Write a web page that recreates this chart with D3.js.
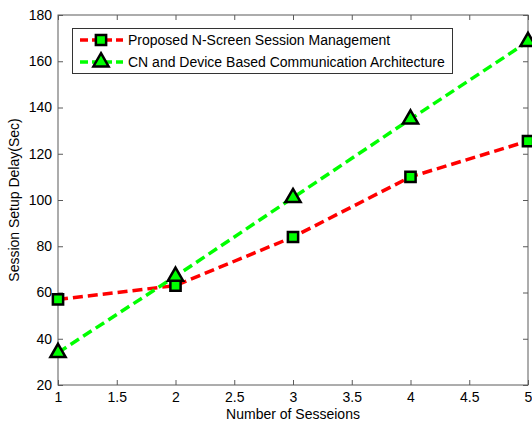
<!DOCTYPE html>
<html>
<head>
<meta charset="utf-8">
<script src="https://cdn.jsdelivr.net/npm/d3@7"></script>
<style>
  html, body { margin: 0; padding: 0; background: #fff; }
  svg { display: block; font-family: "Liberation Sans", Arial, sans-serif; }
</style>
</head>
<body>
<svg id="chart" width="532" height="425"></svg>
<script>
// Number of sessions on the x axis
const sessions = [1, 2, 3, 4, 5];
// Session setup delay (sec) for each approach
const proposedDelay = [57, 63, 84, 110, 125.5];
const cnDeviceDelay = [34, 67, 101, 135, 168.5];
const seriesNames = [
  "Proposed N-Screen Session Management",
  "CN and Device Based Communication Architecture"
];
const xTicks = [1, 1.5, 2, 2.5, 3, 3.5, 4, 4.5, 5];
const yTicks = [20, 40, 60, 80, 100, 120, 140, 160, 180];

const svg = d3.select("#chart");
const m = { left: 58, right: 528, top: 15, bottom: 385 };
const fontSize = 14;

const x = d3.scaleLinear().domain([1, 5]).range([m.left, m.right]);
const y = d3.scaleLinear().domain([20, 180]).range([m.bottom, m.top]);

const axisColor = "#5a5a5a";

// Frame and inward ticks on all four sides
const gAxes = svg.append("g");
const styleAxis = g => {
  g.select(".domain").remove();
  g.selectAll(".tick line").attr("stroke", axisColor).attr("stroke-width", 1);
  g.selectAll(".tick text").attr("fill", "#000").attr("font-size", fontSize)
    .attr("font-family", "Liberation Sans, Arial, sans-serif");
};

gAxes.append("g").attr("transform", `translate(0,${m.bottom})`)
  .call(d3.axisBottom(x).tickValues(xTicks).tickSize(-5).tickPadding(7).tickFormat(d3.format("")))
  .call(styleAxis);
gAxes.append("g").attr("transform", `translate(0,${m.top})`)
  .call(d3.axisTop(x).tickValues(xTicks).tickSize(-5).tickFormat(""))
  .call(styleAxis);
gAxes.append("g").attr("transform", `translate(${m.left},0)`)
  .call(d3.axisLeft(y).tickValues(yTicks).tickSize(-5).tickPadding(6))
  .call(styleAxis);
gAxes.append("g").attr("transform", `translate(${m.right},0)`)
  .call(d3.axisRight(y).tickValues(yTicks).tickSize(-5).tickFormat(""))
  .call(styleAxis);

gAxes.append("rect")
  .attr("x", m.left).attr("y", m.top)
  .attr("width", m.right - m.left).attr("height", m.bottom - m.top)
  .attr("fill", "none").attr("stroke", axisColor).attr("stroke-width", 1);

// Axis titles
svg.append("text")
  .attr("x", (m.left + m.right) / 2).attr("y", 419)
  .attr("text-anchor", "middle").attr("font-size", fontSize)
  .text("Number of Sesseions");
svg.append("text")
  .attr("transform", `translate(19,${(m.top + m.bottom) / 2}) rotate(-90)`)
  .attr("text-anchor", "middle").attr("font-size", fontSize)
  .text("Session Setup Delay(Sec)");

const line = d3.line().x(d => x(d[0])).y(d => y(d[1]));
const green = "#00ff00";
const markerSize = { square: 105, triangle: 100 };

function drawSeries(values, color, markerType, size) {
  const pts = sessions.map((s, i) => [s, values[i]]);
  svg.append("path")
    .datum(pts)
    .attr("d", line)
    .attr("fill", "none")
    .attr("stroke", color)
    .attr("stroke-width", 3.5)
    .attr("stroke-dasharray", "10,5");
  const sym = d3.symbol().type(markerType).size(size);
  svg.append("g").selectAll("path").data(pts).join("path")
    .attr("transform", d => `translate(${x(d[0])},${y(d[1])})`)
    .attr("d", sym)
    .attr("fill", green)
    .attr("stroke", "#000")
    .attr("stroke-width", 2.5)
    .attr("stroke-linejoin", "miter");
}

drawSeries(proposedDelay, "#ff0000", d3.symbolSquare, markerSize.square);
drawSeries(cnDeviceDelay, green, d3.symbolTriangle, markerSize.triangle);

// Legend
const legend = svg.append("g");
legend.append("rect")
  .attr("x", 72.5).attr("y", 28.5).attr("width", 380).attr("height", 45)
  .attr("fill", "#fff").attr("stroke", "#333").attr("stroke-width", 1);

const legendItems = [
  { name: seriesNames[0], color: "#ff0000", type: d3.symbolSquare, size: markerSize.square },
  { name: seriesNames[1], color: green, type: d3.symbolTriangle, size: markerSize.triangle }
];
legendItems.forEach((it, i) => {
  const cy = 40 + i * 22;
  legend.append("line")
    .attr("x1", 80).attr("x2", 123).attr("y1", cy).attr("y2", cy)
    .attr("stroke", it.color).attr("stroke-width", 3.5)
    .attr("stroke-dasharray", "8,4");
  legend.append("path")
    .attr("transform", `translate(101,${cy})`)
    .attr("d", d3.symbol().type(it.type).size(it.size))
    .attr("fill", green).attr("stroke", "#000").attr("stroke-width", 2.5);
  legend.append("text")
    .attr("x", 128).attr("y", cy + 5)
    .attr("font-size", fontSize)
    .text(it.name);
});
</script>
</body>
</html>
